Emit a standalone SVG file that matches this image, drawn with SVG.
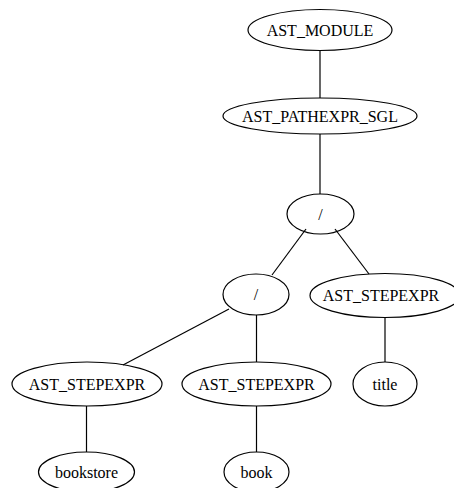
<svg xmlns="http://www.w3.org/2000/svg" width="454" height="488" viewBox="0 0 454 488">
  <style>
    .node ellipse { fill: none; stroke: #000; stroke-width: 1.2; }
    .node text { font-size: 16px; text-anchor: middle; fill: #000; }
    #edges line { stroke: #000; stroke-width: 1.2; }
  </style>
  <rect width="454" height="488" fill="#fff"/>
  <g id="edges">
    <line x1="320" y1="51" x2="320" y2="98"/>
    <line x1="320" y1="134" x2="320" y2="194"/>
    <line x1="306" y1="229" x2="272" y2="275"/>
    <line x1="335" y1="229" x2="369" y2="274"/>
    <line x1="229" y1="309" x2="123" y2="365"/>
    <line x1="256.5" y1="315" x2="256.5" y2="362"/>
    <line x1="385" y1="318" x2="385" y2="362"/>
    <line x1="86.5" y1="406" x2="86.5" y2="452"/>
    <line x1="256.5" y1="406" x2="256.5" y2="452"/>
  </g>
  <g font-family="'Liberation Serif', 'Times New Roman', 'DejaVu Serif', serif">
    <g id="n_module" class="node">
      <ellipse cx="320" cy="30" rx="72" ry="20.5"/>
      <text x="320" y="35.5">AST_MODULE</text>
    </g>
    <g id="n_pathexpr" class="node">
      <ellipse cx="320" cy="116" rx="97" ry="18"/>
      <text x="320" y="121.5">AST_PATHEXPR_SGL</text>
    </g>
    <g id="n_slash1" class="node">
      <ellipse cx="320.5" cy="214" rx="33.5" ry="20"/>
      <text x="320.5" y="219.5">/</text>
    </g>
    <g id="n_slash2" class="node">
      <ellipse cx="256" cy="294.5" rx="33" ry="20.5"/>
      <text x="256" y="300">/</text>
    </g>
    <g id="n_step_title" class="node">
      <ellipse cx="385" cy="295.5" rx="75" ry="22"/>
      <text x="381" y="301">AST_STEPEXPR</text>
    </g>
    <g id="n_step_bookstore" class="node">
      <ellipse cx="87" cy="384" rx="75" ry="22"/>
      <text x="87" y="389.5">AST_STEPEXPR</text>
    </g>
    <g id="n_step_book" class="node">
      <ellipse cx="256.5" cy="384" rx="74.5" ry="22"/>
      <text x="256.5" y="389.5">AST_STEPEXPR</text>
    </g>
    <g id="n_title" class="node">
      <ellipse cx="385" cy="384" rx="32" ry="22"/>
      <text x="385" y="389.5">title</text>
    </g>
    <g id="n_bookstore" class="node">
      <ellipse cx="86.5" cy="472" rx="48" ry="20"/>
      <text x="86.5" y="477.5">bookstore</text>
    </g>
    <g id="n_book" class="node">
      <ellipse cx="256.5" cy="472" rx="32.5" ry="20"/>
      <text x="256.5" y="477.5">book</text>
    </g>
  </g>
</svg>
